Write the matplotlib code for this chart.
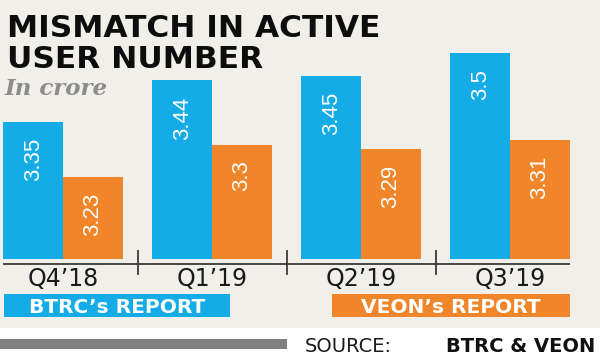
import matplotlib
matplotlib.use("Agg")
import matplotlib.pyplot as plt
from matplotlib.patches import Rectangle
import matplotlib.transforms as mtransforms
import numpy as np

# ---- data ----
quarters = ["Q4\u201918", "Q1\u201919", "Q2\u201919", "Q3\u201919"]
btrc = [3.35, 3.44, 3.45, 3.5]
veon = [3.23, 3.3, 3.29, 3.31]
btrc_labels = ["3.35", "3.44", "3.45", "3.5"]
veon_labels = ["3.23", "3.3", "3.29", "3.31"]
title_lines = ["MISMATCH IN ACTIVE", "USER NUMBER"]
subtitle = "In crore"
legend_names = ["BTRC\u2019s REPORT", "VEON\u2019s REPORT"]
source_prefix = "SOURCE:"
source_names = "BTRC & VEON"

# ---- style ----
BG = "#F0EFE9"
BLUE = "#14ACE6"
ORANGE = "#F0852A"
W, H = 600, 355

fig = plt.figure(figsize=(6, 3.55), dpi=100)
fig.patch.set_facecolor(BG)

def fx(px):
    return px / W

def fy(py):
    return (H - py) / H

# axes for bars
ymin, ymax = 3.05, 3.53
ax = fig.add_axes([fx(3.4), fy(259), fx(566.2), (259 - 39.2) / H])
ax.set_xlim(-0.4, 3.4)
ax.set_ylim(ymin, ymax)
ax.axis("off")
ax.patch.set_alpha(0)

x = np.arange(len(quarters))
bw = 0.40
ax.bar(x - bw / 2, np.array(btrc) - ymin, width=bw, bottom=ymin,
       color=BLUE, linewidth=0)
ax.bar(x + bw / 2, np.array(veon) - ymin, width=bw, bottom=ymin,
       color=ORANGE, linewidth=0)

lab_font = ["Liberation Sans Narrow", "DejaVu Sans Condensed", "Liberation Sans"]
offset = mtransforms.offset_copy(ax.transData, fig=fig, x=0, y=-16, units="dots")
for xi, v, t in zip(x - bw / 2, btrc, btrc_labels):
    ax.text(xi, v, t, transform=offset, rotation=90, ha="center", va="top",
            color="white", fontsize=16, family=lab_font)
for xi, v, t in zip(x + bw / 2, veon, veon_labels):
    ax.text(xi, v, t, transform=offset, rotation=90, ha="center", va="top",
            color="white", fontsize=16, family=lab_font)

# baseline and separators
blend = mtransforms.blended_transform_factory(ax.transData, fig.transFigure)
ax.plot([-0.4, 3.4], [fy(264), fy(264)], transform=blend, color="#3a3a3a",
        lw=1.3, clip_on=False, solid_capstyle="butt")
for xs in x[:-1] + 0.5:
    ax.plot([xs, xs], [fy(251), fy(274)], transform=blend, color="#3a3a3a",
            lw=1.3, clip_on=False)

# category labels
for xi, q in zip(x, quarters):
    ax.text(xi, fy(286), q, transform=blend, ha="center", va="baseline",
            fontsize=17, color="#1a1a1a", family=["DejaVu Sans"])

# title
for i, line in enumerate(title_lines):
    fig.text(fx(7), fy([37, 68][i]), line, ha="left", va="baseline",
             fontsize=22.5, fontweight="bold", color="#0d0d0d",
             family=["DejaVu Sans"])
fig.text(fx(5), fy(95), subtitle, ha="left", va="baseline", fontsize=16.5,
         style="italic", fontweight="bold", color="#8c8c8c",
         family=["DejaVu Serif"])

# legend boxes
boxes = [(4, 230, BLUE), (332, 570, ORANGE)]
for (x0, x1, c), name in zip(boxes, legend_names):
    fig.patches.append(Rectangle((fx(x0), fy(317)), fx(x1 - x0), 23 / H,
                                 transform=fig.transFigure, color=c, lw=0))
    fig.text(fx((x0 + x1) / 2), fy(313), name, ha="center", va="baseline",
             color="white", fontsize=14.5, fontweight="bold",
             family=["DejaVu Sans"])

# source strip
fig.patches.append(Rectangle((0, 0), 1, fy(328), transform=fig.transFigure,
                             color="white", lw=0))
fig.patches.append(Rectangle((0, fy(349)), fx(287), 10 / H,
                             transform=fig.transFigure, color="#808080", lw=0))
fig.text(fx(305), fy(352), source_prefix, ha="left", va="baseline",
         fontsize=14, color="#1a1a1a", family=["DejaVu Sans"])
fig.text(fx(595), fy(352), source_names, ha="right", va="baseline",
         fontsize=14, fontweight="bold", color="#111111",
         family=["DejaVu Sans"])

fig.savefig("out.png", dpi=100, facecolor=BG)
